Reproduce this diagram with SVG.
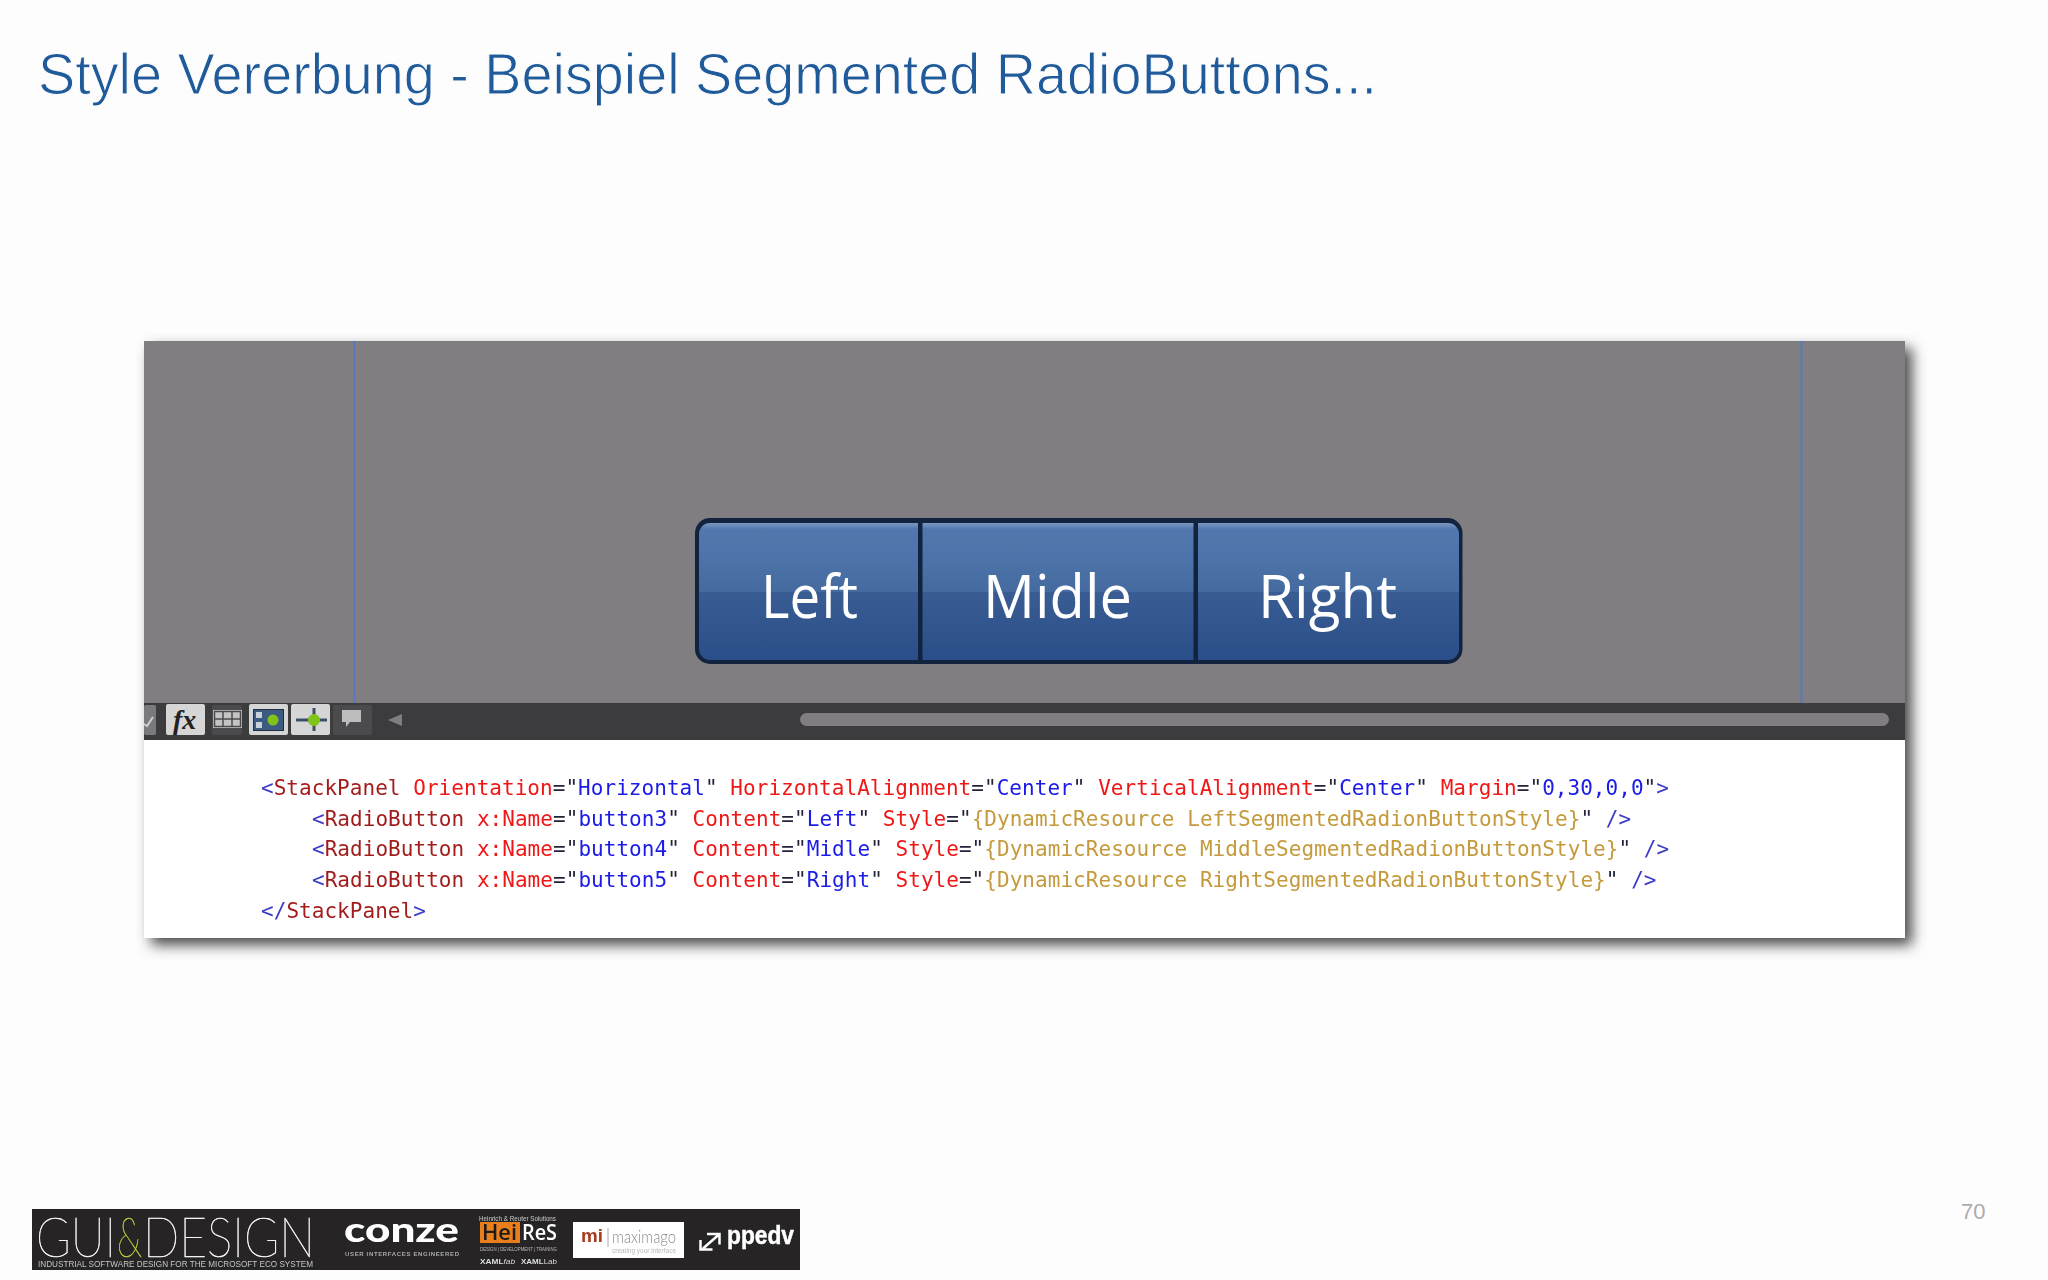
<svg xmlns="http://www.w3.org/2000/svg" width="2048" height="1280" viewBox="0 0 2048 1280">
<style>
.code{font-family:"DejaVu Sans Mono",monospace;font-size:21px;letter-spacing:.04px}
.d{fill:#3a3ac8}.t{fill:#a31f1f}.a{fill:#f01818}.q{fill:#23233a}.v{fill:#1a1ae6}.r{fill:#c49a3c}
.seg{font-family:"Open Sans",sans-serif;font-weight:400;font-size:60px;fill:#fff}
.lg{font-family:"Liberation Sans",sans-serif}
.hr{font-family:"Open Sans",sans-serif;font-weight:600;font-size:21px}
.btn{fill:#d6d6d6}.btnd{fill:#4b4a4c}
.grn{fill:#7fc41a}
</style>
<defs>
<filter id="sh" x="-5%" y="-10%" width="110%" height="120%"><feGaussianBlur stdDeviation="7"/></filter>
<filter id="soft" x="-2%" y="-20%" width="104%" height="140%"><feGaussianBlur stdDeviation=".4"/></filter>
<filter id="soft2" x="-5%" y="-20%" width="110%" height="140%"><feGaussianBlur stdDeviation=".45"/></filter>
<linearGradient id="up" x1="0" y1="0" x2="0" y2="1"><stop offset="0" stop-color="#7c97c0"/><stop offset=".09" stop-color="#5277ae"/><stop offset=".5" stop-color="#4d74aa"/><stop offset="1" stop-color="#446a9f"/></linearGradient>
<linearGradient id="lo" x1="0" y1="0" x2="0" y2="1"><stop offset="0" stop-color="#395c93"/><stop offset="1" stop-color="#2a4e89"/></linearGradient>
<clipPath id="bc"><rect x="699" y="523" width="760" height="137" rx="11"/></clipPath>
</defs>
<rect width="2048" height="1280" fill="#fefdfe"/>
<g id="title"><text x="38" y="94" font-family="'Liberation Sans',sans-serif" font-size="58" fill="#1f5a9a" stroke="#fefdfe" stroke-width="1" textLength="1339" lengthAdjust="spacingAndGlyphs">Style Vererbung - Beispiel Segmented RadioButtons...</text></g>
<g id="panel">
<rect x="151" y="348" width="1761" height="597" fill="#4c4a4c" filter="url(#sh)"/>
<rect x="144" y="341" width="1761" height="362" fill="#807e80"/>
<rect x="353.500" y="341" width="2" height="362" fill="#5578c0"/>
<rect x="1800.500" y="341" width="2" height="362" fill="#5578c0"/>
<rect x="144" y="740" width="1761" height="198" fill="#fff"/>
</g>
<g id="segmented">
<rect x="695" y="518" width="767.500" height="146" rx="15" fill="#12233f"/>
<g clip-path="url(#bc)">
<rect x="699" y="523" width="760" height="69" fill="url(#up)"/>
<rect x="699" y="592" width="760" height="68" fill="url(#lo)"/>
<rect x="918" y="518" width="4.500" height="146" fill="#12233f"/>
<rect x="1193.500" y="518" width="4.500" height="146" fill="#12233f"/>
</g>
<text class="seg" x="761" y="618" textLength="97" lengthAdjust="spacingAndGlyphs">Left</text>
<text class="seg" x="983" y="618" textLength="149" lengthAdjust="spacingAndGlyphs">Midle</text>
<text class="seg" x="1258" y="618" textLength="139" lengthAdjust="spacingAndGlyphs">Right</text>
</g>
<g id="toolbar">
<rect x="144" y="703" width="1761" height="37" fill="#3c3b3d"/>
<rect x="144" y="705" width="12" height="30" rx="2" fill="#7a797b"/>
<path d="M144 724l3 2 6-9" fill="none" stroke="#cfcfcf" stroke-width="2"/>
<rect class="btn" x="166" y="704" width="39" height="31" rx="2"/>
<text x="173" y="729" font-family="'Liberation Serif',serif" font-style="italic" font-weight="700" font-size="28" fill="#222">fx</text>
<rect class="btnd" x="212" y="705" width="30" height="30" rx="2"/>
<rect x="213" y="710" width="29" height="18" fill="#c4c4c4"/>
<path d="M214.500 711.500h26v15h-26zM223 711v16M232 711v16M214 719h27" fill="none" stroke="#4b4a4c" stroke-width="1.500"/>
<rect class="btn" x="249" y="704" width="39" height="31" rx="2"/>
<rect x="253.500" y="709.500" width="30" height="21" fill="#3d5a80" stroke="#1f2f40"/>
<circle class="grn" cx="273" cy="720" r="5.500"/>
<rect x="256" y="712" width="6" height="6" fill="#c9d2dc"/><rect x="256" y="722" width="6" height="6" fill="#c9d2dc"/>
<rect class="btn" x="291" y="704" width="39" height="31" rx="2"/>
<path d="M296 720h31M314 708v23" stroke="#3d4f68" stroke-width="3"/>
<circle class="grn" cx="314" cy="720" r="6"/>
<rect class="btnd" x="333" y="705" width="39" height="30" rx="2"/>
<path d="M342 710h19v12h-11l-4 5v-5h-4z" fill="#bdbdbd"/>
<path d="M402 714v12l-14-6z" fill="#807e80"/>
<rect x="800" y="713" width="1089" height="13" rx="6.500" fill="#807e80"/>
</g>
<g id="code" class="code" filter="url(#soft)">
<text x="261" y="795"><tspan class="d">&lt;</tspan><tspan class="t">StackPanel</tspan> <tspan class="a">Orientation</tspan><tspan class="q">="</tspan><tspan class="v">Horizontal</tspan><tspan class="q">"</tspan> <tspan class="a">HorizontalAlignment</tspan><tspan class="q">="</tspan><tspan class="v">Center</tspan><tspan class="q">"</tspan> <tspan class="a">VerticalAlignment</tspan><tspan class="q">="</tspan><tspan class="v">Center</tspan><tspan class="q">"</tspan> <tspan class="a">Margin</tspan><tspan class="q">="</tspan><tspan class="v">0,30,0,0</tspan><tspan class="q">"</tspan><tspan class="d">&gt;</tspan></text>
<text x="312" y="825.700"><tspan class="d">&lt;</tspan><tspan class="t">RadioButton</tspan> <tspan class="a">x:Name</tspan><tspan class="q">="</tspan><tspan class="v">button3</tspan><tspan class="q">"</tspan> <tspan class="a">Content</tspan><tspan class="q">="</tspan><tspan class="v">Left</tspan><tspan class="q">"</tspan> <tspan class="a">Style</tspan><tspan class="q">="</tspan><tspan class="r">{DynamicResource LeftSegmentedRadionButtonStyle}</tspan><tspan class="q">"</tspan> <tspan class="d">/&gt;</tspan></text>
<text x="312" y="856.400"><tspan class="d">&lt;</tspan><tspan class="t">RadioButton</tspan> <tspan class="a">x:Name</tspan><tspan class="q">="</tspan><tspan class="v">button4</tspan><tspan class="q">"</tspan> <tspan class="a">Content</tspan><tspan class="q">="</tspan><tspan class="v">Midle</tspan><tspan class="q">"</tspan> <tspan class="a">Style</tspan><tspan class="q">="</tspan><tspan class="r">{DynamicResource MiddleSegmentedRadionButtonStyle}</tspan><tspan class="q">"</tspan> <tspan class="d">/&gt;</tspan></text>
<text x="312" y="887.100"><tspan class="d">&lt;</tspan><tspan class="t">RadioButton</tspan> <tspan class="a">x:Name</tspan><tspan class="q">="</tspan><tspan class="v">button5</tspan><tspan class="q">"</tspan> <tspan class="a">Content</tspan><tspan class="q">="</tspan><tspan class="v">Right</tspan><tspan class="q">"</tspan> <tspan class="a">Style</tspan><tspan class="q">="</tspan><tspan class="r">{DynamicResource RightSegmentedRadionButtonStyle}</tspan><tspan class="q">"</tspan> <tspan class="d">/&gt;</tspan></text>
<text x="261" y="917.800"><tspan class="d">&lt;/</tspan><tspan class="t">StackPanel</tspan><tspan class="d">&gt;</tspan></text>
</g>
<g id="logos">
<rect x="32" y="1209" width="768" height="61" fill="#262425"/>
<g filter="url(#soft2)" class="lg">
<g font-family="Lato,sans-serif" font-weight="100" font-size="56" stroke-width=".6">
<text x="36" y="1257" fill="#f4f4f4" stroke="#f4f4f4" textLength="80" lengthAdjust="spacingAndGlyphs">GUI</text>
<text x="117" y="1257" fill="#b5cc3a" stroke="#b5cc3a" textLength="25" lengthAdjust="spacingAndGlyphs">&amp;</text>
<text x="143" y="1257" fill="#f4f4f4" stroke="#f4f4f4" textLength="172" lengthAdjust="spacingAndGlyphs">DESIGN</text>
</g>
<text x="38" y="1267" font-size="9.500" fill="#c4c4c4" textLength="275" lengthAdjust="spacingAndGlyphs">INDUSTRIAL SOFTWARE DESIGN FOR THE MICROSOFT ECO SYSTEM</text>
<text x="344" y="1242" font-family="Lato,sans-serif" font-weight="900" font-size="34" fill="#fff" textLength="115" lengthAdjust="spacingAndGlyphs">conze</text>
<text x="345" y="1256" font-size="6" font-weight="700" fill="#aaa" textLength="114" lengthAdjust="spacing">USER INTERFACES ENGINEERED</text>
<text x="479" y="1221" font-size="8" fill="#ccc" textLength="77" lengthAdjust="spacingAndGlyphs">Heinrich &amp; Reuter Solutions</text>
<rect x="480" y="1222" width="40" height="21" fill="#e87f1e"/>
<text class="hr" x="482" y="1240" fill="#1a1a1a" textLength="35" lengthAdjust="spacingAndGlyphs">Hei</text>
<text class="hr" x="522" y="1240" fill="#fff" textLength="35" lengthAdjust="spacingAndGlyphs">ReS</text>
<text x="480" y="1251" font-size="5" fill="#bbb" textLength="77" lengthAdjust="spacingAndGlyphs">DESIGN | DEVELOPMENT | TRAINING</text>
<text x="480" y="1264" font-size="7.500" font-weight="700" fill="#ddd" textLength="35" lengthAdjust="spacingAndGlyphs">XAML<tspan font-style="italic" font-weight="400">fab</tspan></text>
<text x="521" y="1264" font-size="7.500" font-weight="700" fill="#ddd" textLength="36" lengthAdjust="spacingAndGlyphs">XAML<tspan font-weight="400">Lab</tspan></text>
<rect x="573" y="1222" width="111" height="36" fill="#fff"/>
<text x="581" y="1242" font-size="19" font-weight="700" fill="#a83a1e" textLength="22" lengthAdjust="spacingAndGlyphs">mi</text>
<rect x="607.500" y="1228" width="1" height="19" fill="#aaa"/>
<text x="612" y="1242.500" font-family="Lato,sans-serif" font-weight="300" font-size="17" fill="#8a8a8a" textLength="64" lengthAdjust="spacingAndGlyphs">maximago</text>
<text x="612" y="1252.500" font-size="7" fill="#b8b8b8" textLength="64" lengthAdjust="spacingAndGlyphs">creating your interface</text>
<path d="M700.500 1240v9.500h12M707 1234h12.500v10.500M719 1234.500l-16 14" fill="none" stroke="#fff" stroke-width="2.500"/>
<text x="727" y="1244" font-size="26" font-weight="700" fill="#fff" stroke="#fff" stroke-width=".5" textLength="67" lengthAdjust="spacingAndGlyphs">ppedv</text>
</g>
</g>
<g id="page-number"><text x="1961" y="1219" font-family="'Liberation Sans',sans-serif" font-size="22" fill="#aeaaae">70</text></g>
</svg>
